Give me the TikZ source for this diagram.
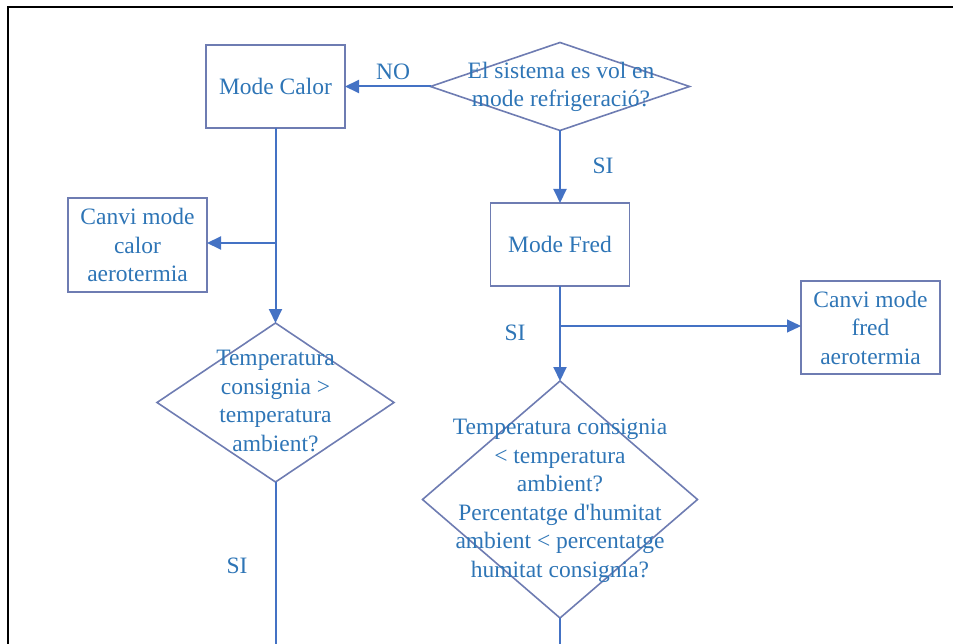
\documentclass[tikz,border=0pt]{standalone}
\usepackage{fontspec}
\setmainfont{Liberation Serif}
\usetikzlibrary{shapes.geometric,arrows.meta}
\definecolor{txtblue}{RGB}{46,117,182}
\definecolor{lineblue}{RGB}{68,114,196}
\definecolor{boxline}{RGB}{110,124,178}
\tikzset{
  every node/.style={font=\fontsize{23.5}{28.5}\selectfont, text=txtblue},
  boxnode/.style={draw=boxline, line width=1.6pt, rectangle, inner sep=0pt, outer sep=0pt, align=center},
  dianode/.style={draw=boxline, line width=1.6pt, diamond, inner sep=0pt, outer sep=0pt},
  txtnode/.style={align=center, inner sep=0pt},
  conn/.style={draw=lineblue, line width=2pt, -{Triangle[length=14pt,width=13pt]}},
  connthin/.style={draw=lineblue, line width=1.1pt, -{Triangle[length=14pt,width=13pt]}},
  plainconn/.style={draw=lineblue, line width=2pt},
}
\begin{document}
\begin{tikzpicture}[x=1pt,y=-1pt]
\useasboundingbox (0,0) rectangle (958,644);
% frame
\draw[black, line width=2.5pt] (8,646) -- (8,7) -- (953,7);

% nodes
\node[boxnode, minimum width=139pt, minimum height=83pt] (mc) at (275.5,86.5) {Mode Calor};
\node[dianode, minimum width=259pt, minimum height=88pt] (d1) at (560,86.5) {};
\node[txtnode] (d1t) at (561,87) {El sistema es vol en\\mode refrigeració?};
\node[boxnode, minimum width=139pt, minimum height=83pt] (mf) at (560,244.5) {Mode Fred};
\node[boxnode, minimum width=139pt, minimum height=93pt] (cf) at (870.5,327.5) {Canvi mode\\fred\\aerotermia};
\node[boxnode, minimum width=139pt, minimum height=94pt] (cc) at (137.5,245) {Canvi mode\\calor\\aerotermia};
\node[dianode, minimum width=275pt, minimum height=237pt] (d2) at (560,499.5) {};
\node[txtnode] (d2t) at (560,501) {Temperatura consignia\\< temperatura\\ambient?\\Percentatge d\textquotesingle humitat\\ambient < percentatge\\humitat consignia?};
\node[dianode, minimum width=237pt, minimum height=159pt] (d3) at (275.5,402.5) {};
\node[txtnode] (d3t) at (275.5,401) {Temperatura\\consignia >\\temperatura\\ambient?};

% labels
\node[txtnode] (lno) at (393,72) {NO};
\node[txtnode] (lsi1) at (603,166) {SI};
\node[txtnode] (lsi2) at (515,333) {SI};
\node[txtnode] (lsi3) at (237,566) {SI};

% coordinates
\coordinate (bf) at (560,326);
\coordinate (bc) at (275.5,243);
\coordinate (e3) at (275.5,646);
\coordinate (e2) at (560,646);

% connectors
\draw[conn] (d1.west) -- (mc.east);
\draw[conn] (d1.south) -- (mf.north);
\draw[conn] (mf.south) -- (d2.north);
\draw[connthin] (bf) -- (bf -| cf.west);
\draw[conn] (mc.south) -- (d3.north);
\draw[conn] (bc) -- (bc -| cc.east);
\draw[plainconn] (d3.south) -- (e3);
\draw[plainconn] (d2.south) -- (e2);
\end{tikzpicture}
\end{document}
